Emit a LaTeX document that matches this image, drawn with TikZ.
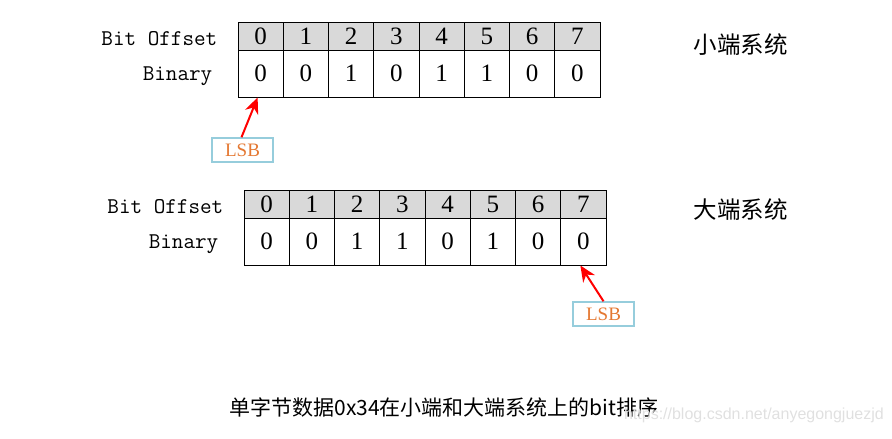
\documentclass[tikz,border=0pt]{standalone}
\usepackage{fontspec}
\setmainfont{Liberation Serif}
\newfontfamily\cjk{Noto Sans CJK SC}
\newfontfamily\wmfont{Liberation Sans}
\usetikzlibrary{positioning, arrows.meta}

\definecolor{lsbline}{RGB}{150,205,220}
\definecolor{lsbtext}{RGB}{228,120,50}

\begin{document}
\begin{tikzpicture}[
        x=1pt, y=-1pt,
        cell/.style={draw, line width=1pt, minimum width=45.25pt, minimum height=47pt, inner sep=0pt, font=\fontsize{25}{27}\selectfont},
        head/.style={cell, fill=black!15, minimum height=28pt},
        rowlab/.style={inner sep=0pt, yshift=-2.5pt, font=\ttfamily\fontsize{22.5}{24}\selectfont},
        sys/.style={inner sep=0pt, font=\cjk\fontsize{23.5}{25}\selectfont},
        lsb/.style={draw=lsbline, line width=1.5pt, minimum width=61pt, minimum height=24pt, inner sep=0pt, text=lsbtext, font=\fontsize{19}{20}\selectfont},
        pointer/.style={-{Stealth[length=16pt, width=14pt]}, red, line width=2pt}
    ]
    \useasboundingbox (0,0) rectangle (892,439);

    % Little endian
    \foreach \b [count=\i from 0] in {0,0,1,0,1,1,0,0} {
        \node[head] (lh\i) at ({238+45.25*(\i+0.5)},36) {\i};
        \node[cell] (lb\i) at ({238+45.25*(\i+0.5)},73.5) {\b};
    }
    \node[rowlab, left=20pt of lh0] (lhlab) {Bit Offset};
    \node[rowlab, left=25pt of lb0] (lblab) {Binary};
    \node[sys, right=93pt of lh7, yshift=-9pt] (lsys) {小端系统};
    \node[lsb] (lsbL) at (242.5,150) {LSB};

    % Big endian
    \foreach \b [count=\i from 0] in {0,0,1,1,0,1,0,0} {
        \node[head] (bh\i) at ({244+45.25*(\i+0.5)},204) {\i};
        \node[cell] (bb\i) at ({244+45.25*(\i+0.5)},241.5) {\b};
    }
    \node[rowlab, left=20pt of bh0] (bhlab) {Bit Offset};
    \node[rowlab, left=25pt of bb0] (bblab) {Binary};
    \node[sys, right=87pt of bh7, yshift=-6pt] (bsys) {大端系统};
    \node[lsb] (lsbB) at (603.5,314) {LSB};

    % Arrows
    \draw[pointer] ([xshift=-1pt]lsbL.north) -- ([xshift=-3pt]lb0.south);
    \draw[pointer] (lsbB.north) -- ([xshift=-3pt]bb7.south);

    % Caption
    \node[inner sep=0pt, font=\cjk\fontsize{21}{23}\selectfont] (cap) at (444,407) {单字节数据0x34在小端和大端系统上的bit排序};
    \node[inner sep=0pt, anchor=east, text=black!12, font=\wmfont\fontsize{16}{18}\selectfont] (wm) at (884,415) {https://blog.csdn.net/anyegongjuezjd};
\end{tikzpicture}
\end{document}
